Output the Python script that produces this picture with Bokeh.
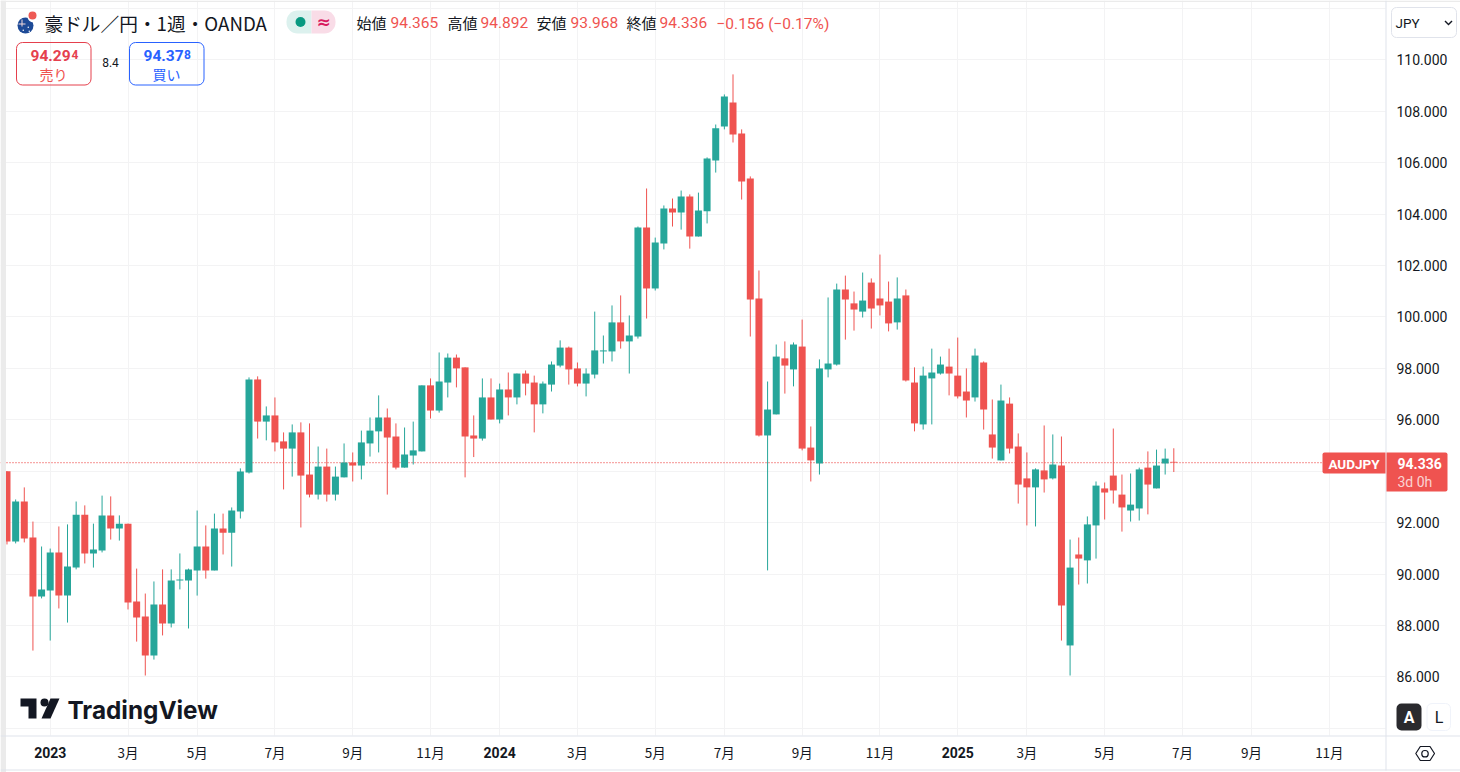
from bokeh.embed import file_html
from bokeh.resources import INLINE
from bokeh.plotting import figure
from bokeh.models import (BoxAnnotation, ColumnDataSource, FixedTicker, Label,
                          PolyAnnotation, NumeralTickFormatter)

# ---------- data (weekly AUD/JPY, OANDA) ----------
opens = [94.00,91.26,92.82,91.42,89.12,89.36,90.84,89.16,90.25,92.31,90.80,90.91,92.28,91.77,91.96,88.93,88.35,86.83,88.81,88.07,
         89.75,89.75,90.14,91.07,90.14,91.77,91.61,92.43,93.95,97.57,95.93,96.17,95.16,94.88,95.51,93.87,93.09,94.18,93.09,93.76,
         94.34,94.22,95.08,95.55,96.09,95.35,94.14,94.61,94.77,97.34,96.36,97.45,98.42,98.04,95.39,95.27,96.87,96.01,97.18,96.87,
         97.80,97.45,96.60,97.37,98.11,98.81,98.00,97.41,97.76,98.66,98.66,99.79,99.05,99.24,103.48,101.11,102.86,104.22,104.07,104.69,
         103.13,104.11,106.09,107.41,108.35,107.14,105.39,100.72,95.39,96.21,98.39,97.96,98.85,94.92,94.30,97.96,98.15,101.07,100.53,100.21,
         101.34,100.72,100.60,99.79,100.84,97.45,95.82,97.61,97.80,98.07,97.72,97.10,96.87,98.23,95.43,94.42,96.63,94.96,93.72,93.37,
         94.03,93.72,94.22,87.22,90.76,90.53,91.89,93.33,93.83,93.09,92.47,92.55,94.14,93.33,94.30,94.365]
highs = [94.00,92.90,93.37,92.04,91.07,90.99,91.85,91.93,92.82,92.67,91.96,93.05,93.02,92.28,91.96,90.21,89.24,89.71,90.18,90.18,
         90.80,90.21,92.47,91.89,92.35,92.35,92.59,94.11,97.65,97.69,96.52,96.87,95.51,95.82,95.90,95.86,94.96,94.88,94.18,95.08,
         94.73,95.58,96.09,96.95,96.44,95.86,95.70,95.93,97.34,97.61,98.62,98.58,98.54,98.04,96.17,97.61,97.61,97.41,97.84,97.80,
         97.92,97.72,97.49,98.27,99.09,98.85,98.23,98.00,100.21,99.28,100.45,100.84,100.06,103.52,105.00,103.09,104.34,104.61,104.92,104.77,
         104.84,106.21,107.49,108.66,109.44,107.30,105.47,101.81,97.49,98.93,99.05,99.01,99.90,95.74,98.35,100.76,101.30,101.61,100.99,101.73,
         101.50,102.43,101.38,101.54,101.07,98.04,98.07,98.77,98.46,98.77,99.20,98.00,98.77,98.27,96.79,97.37,96.87,95.47,94.73,94.11,
         95.78,95.43,95.35,91.34,91.42,92.24,93.60,93.56,95.66,93.87,93.91,94.14,94.77,94.84,94.88,94.892]
lows = [91.15,91.19,91.23,87.02,89.05,87.41,88.66,88.11,90.18,90.41,90.25,90.84,91.34,91.30,88.62,87.37,86.05,86.67,87.61,87.92,
        89.40,87.88,89.16,89.82,90.14,90.76,90.29,92.16,93.91,95.27,95.20,94.77,93.29,93.79,91.81,92.98,92.90,92.82,92.86,93.76,
        93.60,93.68,94.57,94.73,93.09,94.07,94.14,94.26,94.77,96.05,96.28,96.87,97.26,93.76,94.55,95.19,96.01,95.86,96.17,96.60,
        96.95,95.51,96.25,97.10,98.04,97.37,97.30,96.91,97.61,98.19,98.27,98.77,97.80,99.16,99.94,101.03,102.63,103.52,103.40,102.66,
        103.13,103.64,105.62,107.30,106.79,104.57,99.24,95.35,90.14,96.21,97.02,97.30,94.81,93.60,93.87,97.65,98.11,99.12,99.47,99.98,
        99.55,100.06,99.44,99.51,97.49,95.55,95.62,95.82,97.76,96.95,96.83,96.09,96.71,95.62,94.49,94.42,94.69,92.74,91.89,91.85,
        93.17,93.68,87.41,86.05,89.59,89.63,90.60,92.12,92.74,91.65,92.04,92.08,92.32,93.33,93.87,93.968]
closes = [91.26,92.82,91.38,89.12,89.40,90.84,89.16,90.29,92.31,90.80,90.95,92.28,91.77,91.96,88.89,88.31,86.83,88.81,88.07,89.75,
          89.79,90.18,91.07,90.14,91.77,91.61,92.47,93.99,97.57,95.93,96.17,95.12,94.88,95.51,93.83,93.09,94.18,93.09,93.79,94.34,
          94.22,95.12,95.58,96.09,95.31,94.14,94.65,94.81,97.34,96.36,97.49,98.42,98.00,95.35,95.27,96.87,96.01,97.18,96.87,97.80,
          97.41,96.60,97.41,98.15,98.81,97.96,97.41,97.80,98.70,98.70,99.79,99.05,99.28,103.48,101.11,102.90,104.22,104.07,104.69,103.13,
          104.14,106.17,107.34,108.58,107.10,105.27,100.68,95.39,96.40,98.46,98.11,98.93,94.88,94.42,98.00,98.19,101.07,100.68,100.29,100.64,
          100.33,100.45,99.75,100.72,97.53,95.86,97.72,97.84,98.15,97.80,96.91,96.75,98.50,96.40,94.92,96.75,94.88,93.48,93.37,94.07,
          93.68,94.26,88.77,90.25,90.60,91.93,93.44,93.17,93.25,92.59,92.70,94.07,93.48,94.22,94.49,94.336]

price_ticks = [84, 86, 88, 90, 92, 94, 96, 98, 100, 102, 104, 106, 108, 110, 112]
time_ticks = [5, 14, 22, 31, 40, 49, 57, 66, 75, 83, 92, 101, 110, 118, 127, 136, 144, 153]
time_labels = ["2023", "3月", "5月", "7月", "9月", "11月", "2024", "3月", "5月", "7月", "9月", "11月",
               "2025", "3月", "5月", "7月", "9月", "11月"]
title = "豪ドル／円・1週・OANDA"
ohlc_names = ["始値", "高値", "安値", "終値"]
ohlc_values = ["94.365", "94.892", "93.968", "94.336"]
change_text = "−0.156 (−0.17%)"

# ---------- palette and metrics ----------
RED, GREEN = "#ef5350", "#26a69a"
INK, GRID, EDGE = "#131722", "#f3f3f4", "#e0e3eb"
W, H = 1460, 772
PANE_X, PANE_Y = 1385, 735           # pixel position of the price and time scales
X0, XPX = -0.752, 1 / 8.643          # index at the left edge, index per pixel
Y0, YPX = 112.315, 0.03891           # price at the top edge, price per pixel
LAT = "Roboto"
CJK = "Noto Sans CJK JP"

x_pane = X0 + PANE_X * XPX
y_pane = Y0 - PANE_Y * YPX

idx = list(range(len(opens)))
colors = [GREEN if c >= o else RED for o, c in zip(opens, closes)]
src = ColumnDataSource(dict(x=idx, o=opens, h=highs, l=lows, c=closes, color=colors,
                            top=[max(a, b) for a, b in zip(opens, closes)],
                            bottom=[min(a, b) for a, b in zip(opens, closes)]))

p = figure(width=W, height=H, output_backend="svg", toolbar_location=None,
           x_range=(X0, X0 + W * XPX), y_range=(Y0 - H * YPX, Y0),
           y_axis_location="right", min_border=0,
           outline_line_color=None, background_fill_color="white")

yaxis, xaxis = p.yaxis[0], p.xaxis[0]
yaxis.fixed_location = x_pane
xaxis.fixed_location = y_pane
yaxis.ticker = FixedTicker(ticks=price_ticks)
yaxis.formatter = NumeralTickFormatter(format="0.000")
yaxis.major_label_overrides = {84: "", 112: ""}
yaxis.major_label_text_font = LAT
yaxis.major_label_text_font_size = "14px"
yaxis.major_label_text_color = INK
yaxis.major_label_standoff = 5
xaxis.ticker = FixedTicker(ticks=time_ticks)
xaxis.major_label_overrides = {t: ("" if l.isdigit() else l) for t, l in zip(time_ticks, time_labels)}
xaxis.major_label_text_font = CJK
xaxis.major_label_text_font_size = "13.5px"
xaxis.major_label_text_color = INK
xaxis.major_label_standoff = 0
for ax in (xaxis, yaxis):
    ax.axis_line_color = None
    ax.major_tick_line_color = None
    ax.minor_tick_line_color = None
p.xgrid.ticker = FixedTicker(ticks=time_ticks)
p.ygrid.ticker = FixedTicker(ticks=price_ticks)
p.xgrid.grid_line_color = GRID
p.ygrid.grid_line_color = GRID

# ---------- helpers: page pixels, origin top-left ----------
def Yp(y):
    return H - y

def box(l, t, r, b, fill=None, line=None, radius=0, lw=1, level="overlay"):
    p.add_layout(BoxAnnotation(left=l, right=r, top=Yp(t), bottom=Yp(b),
                               left_units="screen", right_units="screen",
                               top_units="screen", bottom_units="screen",
                               fill_color=fill, fill_alpha=1 if fill else 0,
                               line_color=line, line_alpha=1 if line else 0, line_width=lw,
                               border_radius=radius, level=level))

def poly(pts, fill=None, line=None, lw=1):
    p.add_layout(PolyAnnotation(xs=[a for a, _ in pts], ys=[Yp(b) for _, b in pts],
                                xs_units="screen", ys_units="screen",
                                fill_color=fill, fill_alpha=1 if fill else 0,
                                line_color=line, line_alpha=1 if line else 0, line_width=lw,
                                level="overlay"))

def text(x, y, s, size=14, color=INK, font=LAT, style="normal", align="left", alpha=1.0):
    p.add_layout(Label(x=x, y=Yp(y), x_units="screen", y_units="screen", text=s,
                       text_font=font, text_font_size=f"{size}px", text_color=color,
                       text_font_style=style, text_align=align, text_baseline="middle",
                       text_alpha=alpha, level="overlay"))

# white panes hide the grid behind the price and time scales
box(PANE_X, 0, W, H, fill="white", level="underlay")
box(0, PANE_Y, W, H, fill="white", level="underlay")

# ---------- candles and last-price line ----------
p.line([X0, x_pane], [closes[-1], closes[-1]], line_color=RED, line_width=1.3, line_dash=[1, 2])
p.segment("x", "h", "x", "l", source=src, color="color", line_width=1)
p.vbar("x", top="top", bottom="bottom", width=0.81, source=src, fill_color="color", line_color=None)

# ---------- frame edges ----------
box(0, 0, 5.5, H, fill="#ebebeb")
box(0, 0, W, 1.5, fill="#ebebeb")
box(0, 735, W, 736, fill=EDGE)
box(0, 769, W, 770, fill=EDGE)
box(1385, 0, 1386, 770, fill=EDGE)

# ---------- bold year labels on the time axis ----------
for t, l in zip(time_ticks, time_labels):
    if l.isdigit():
        p.add_layout(Label(x=t, y=Yp(752), y_units="screen", text=l, text_font=LAT,
                           text_font_size="14px", text_font_style="bold", text_color=INK,
                           text_align="center", text_baseline="middle"))

# ---------- header ----------
box(17, 17, 33, 33, fill="#1d4a97", radius=8)
box(18, 23, 25, 24, fill="#f3d9dc")
box(21, 19, 22, 26, fill="#f3d9dc")
box(27, 26, 28.5, 27.5, fill="white", radius=1)
box(22, 29, 23.5, 30.5, fill="white", radius=1)
box(28, 30, 29.5, 31.5, fill="white", radius=1)
box(27, 10, 39, 22, fill="white", radius=6)
box(28, 11, 36, 19, fill="#ee5a55", radius=4)
text(44, 22, title, size=18.7, font=CJK)

box(286, 10, 311, 33, fill="#dcf1ee", radius=(11, 0, 0, 11))
box(311, 10, 335, 33, fill="#f9dce7", radius=(0, 11, 11, 0))
box(295, 16.5, 305, 26.5, fill="#089981", radius=5)
text(323, 21.5, "≈", size=17, color="#d81b60", font="DejaVu Sans", align="center", style="bold")

name_x = [356, 447, 536, 626]
val_x = [390, 480, 570, 659]
for nx, vx, n, v in zip(name_x, val_x, ohlc_names, ohlc_values):
    text(nx, 22, n, size=15, font=CJK)
    text(vx, 22, v, size=15.5, color=RED)
text(716, 23, change_text, size=15.5, color=RED)

# ---------- sell / buy ----------
box(16, 42, 90.5, 84.5, line="#e5404d", radius=6)
text(30, 55, "94.29", size=15.5, color="#e5404d", style="bold")
text(71, 54, "4", size=12, color="#e5404d", style="bold")
text(53, 73.5, "売り", size=14, color=RED, font=CJK, align="center")
text(110, 62, "8.4", size=12, color=INK, align="center")
box(129, 42, 203.5, 84.5, line="#2962ff", radius=6)
text(143, 55, "94.37", size=15.5, color="#2962ff", style="bold")
text(183.5, 54, "8", size=12, color="#2962ff", style="bold")
text(166, 73.5, "買い", size=14, color="#2962ff", font=CJK, align="center")

# ---------- currency select ----------
box(1391, 7, 1456, 37, line=EDGE, radius=5)
text(1395, 22.5, "JPY", size=13.5)
poly([(1444, 21), (1445, 20), (1448, 23), (1451, 20), (1452, 21), (1448, 25)], fill=INK)

# ---------- last price tags ----------
box(1322, 452, 1385, 473, fill=RED, radius=(2, 0, 0, 2))
text(1353.5, 463, "AUDJPY", size=13.5, color="white", align="center", style="bold")
box(1386, 452, 1447, 491, fill=RED, radius=(0, 2, 2, 0))
text(1397, 463, "94.336", size=14, color="white", style="bold")
text(1397, 481, "3d 0h", size=14, color="white", alpha=0.75)

# ---------- TradingView logo ----------
poly([(20, 698), (36, 698), (36, 718), (28, 718), (28, 706), (20, 706)], fill=INK)
box(40, 698, 48, 706, fill=INK, radius=4)
poly([(50, 698), (59, 698), (50, 718), (41, 718)], fill=INK)
text(67, 709, "TradingView", size=24.3, font="Inter", style="bold")

# ---------- auto / log, settings ----------
box(1396, 703, 1421, 730, fill="#2a2a2e", radius=5)
text(1408.5, 716.5, "A", size=16, color="white", align="center", style="bold")
box(1426.5, 703, 1450, 730, line="#f0f3fa", radius=5)
text(1438.5, 716.5, "L", size=16, align="center")
poly([(1415.3, 753), (1419.8, 746), (1429.5, 746), (1434, 753), (1429.5, 760), (1419.8, 760)], line=INK, lw=1.2)
box(1421.3, 750, 1427.7, 756.4, line=INK, radius=3, lw=1.2)

open("out.html", "w").write(file_html(p, INLINE))
